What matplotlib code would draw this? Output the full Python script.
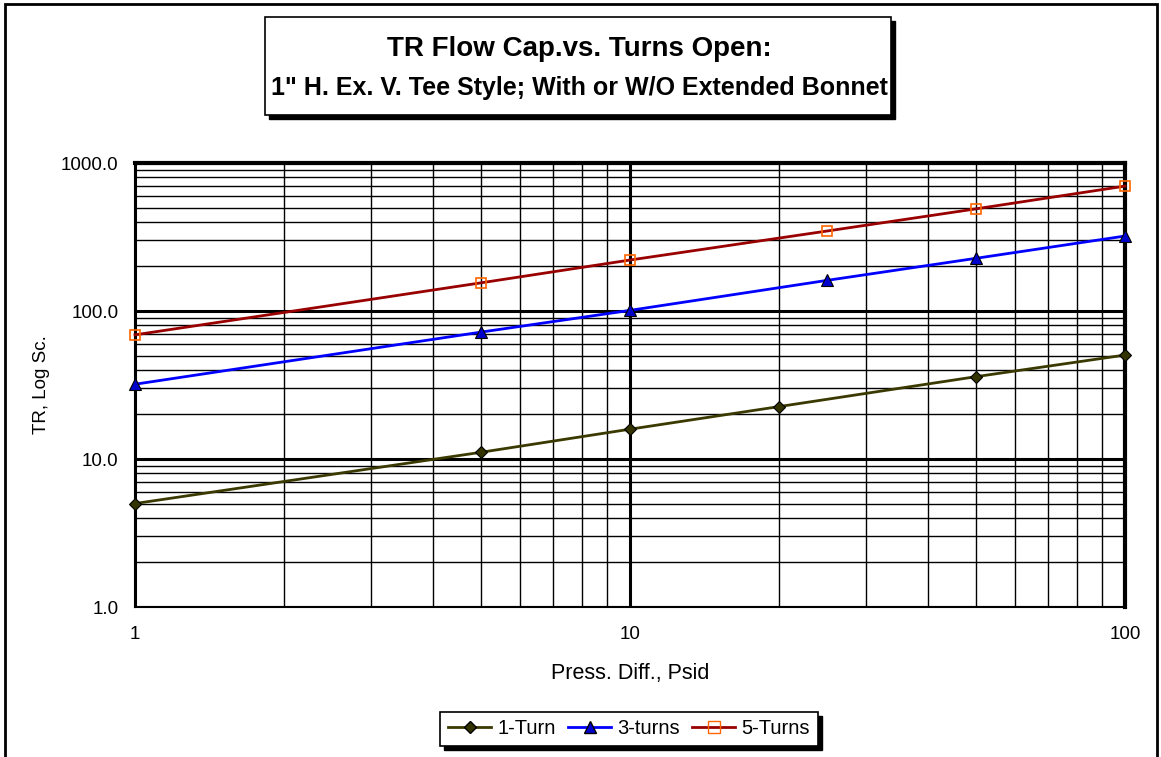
import matplotlib.pyplot as plt
from matplotlib.patches import Rectangle
from matplotlib.ticker import FixedLocator, LogLocator, NullFormatter
from matplotlib.lines import Line2D

plt.rcParams['font.family'] = ['Liberation Sans', 'DejaVu Sans']

# data
x_one = [1, 5, 10, 20, 50, 100]
y_one = [5.0, 11.1, 15.9, 22.6, 36.0, 50.4]
x_three = [1, 5, 10, 25, 50, 100]
y_three = [32, 72, 101, 161, 227, 321]
x_five = [1, 5, 10, 25, 50, 100]
y_five = [69, 155, 221, 347, 490, 698]
names = ['1-Turn', '3-turns', '5-Turns']

W, H = 1161, 757
fig = plt.figure(figsize=(W / 100, H / 100), dpi=100)

def fx(px):
    return px / W

def fy(py):
    return 1 - py / H

# outer chart frame
fig.patches.append(Rectangle((fx(5), fy(800)), fx(1157) - fx(5), fy(4) - fy(800),
                             transform=fig.transFigure, fill=False, ec='black', lw=2))

ax = fig.add_axes([fx(135), fy(607), fx(1125) - fx(135), fy(163) - fy(607)])
ax.set_xscale('log')
ax.set_yscale('log')
ax.set_xlim(1, 100)
ax.set_ylim(1, 1000)

ax.xaxis.set_major_locator(FixedLocator([1, 10, 100]))
ax.xaxis.set_minor_locator(LogLocator(base=10, subs=range(2, 10)))
ax.xaxis.set_minor_formatter(NullFormatter())
ax.set_xticklabels(['1', '10', '100'])
ax.yaxis.set_major_locator(FixedLocator([1, 10, 100, 1000]))
ax.yaxis.set_minor_locator(LogLocator(base=10, subs=range(2, 10)))
ax.yaxis.set_minor_formatter(NullFormatter())
ax.set_yticklabels(['1.0', '10.0', '100.0', '1000.0'])
ax.tick_params(which='both', length=0, labelsize=13.5)
ax.tick_params(axis='x', pad=14)
ax.tick_params(axis='y', pad=12)

ax.grid(which='minor', color='black', lw=1.0)
ax.grid(which='major', color='black', lw=2.2)
for s in ax.spines.values():
    s.set_linewidth(1.5)
ax.spines['top'].set_linewidth(3)
ax.spines['right'].set_linewidth(3)

ax.plot(x_one, y_one, color='#3a3a00', lw=2, marker='D', ms=6,
        mfc='#333300', mec='black', mew=0.8, clip_on=False, zorder=5)
ax.plot(x_three, y_three, color='#0000ff', lw=2, marker='^', ms=8,
        mfc='#0000cc', mec='black', mew=0.8, clip_on=False, zorder=5)
ax.plot(x_five, y_five, color='#990000', lw=2, marker='s', ms=7.5,
        mfc='none', mec='#ff6600', mew=1.2, clip_on=False, zorder=5)

ax.set_xlabel('Press. Diff., Psid', fontsize=15.5, labelpad=14)
ax.set_ylabel('TR, Log Sc.', fontsize=13.5, labelpad=8)

# title box with shadow
def shadow_box(x0, y0, x1, y1):
    fig.patches.append(Rectangle((fx(x0 + 4), fy(y1 + 4)), fx(x1) - fx(x0), fy(y0) - fy(y1),
                                 transform=fig.transFigure, fc='black', ec='black', lw=1))
    fig.patches.append(Rectangle((fx(x0), fy(y1)), fx(x1) - fx(x0), fy(y0) - fy(y1),
                                 transform=fig.transFigure, fc='white', ec='black', lw=1.2))

shadow_box(265, 17, 891, 115)
fig.text(fx(579), fy(49), 'TR Flow Cap.vs. Turns Open:', ha='center', va='center',
         fontsize=20, fontweight='bold')
fig.text(fx(579), fy(88), '1" H. Ex. V. Tee Style; With or W/O Extended Bonnet',
         ha='center', va='center', fontsize=18, fontweight='bold')

# legend box
shadow_box(440, 712, 818, 746)
handles = [
    Line2D([], [], color='#3a3a00', lw=2, marker='D', ms=6, mfc='#333300', mec='black'),
    Line2D([], [], color='#0000ff', lw=2, marker='^', ms=8, mfc='#0000cc', mec='black'),
    Line2D([], [], color='#990000', lw=2, marker='s', ms=8, mfc='none', mec='#ff6600'),
]
fig.legend(handles, names, loc='center', bbox_to_anchor=(fx(629), fy(729)), ncol=3,
           frameon=False, fontsize=14.5, handlelength=2.15, handletextpad=0.3,
           columnspacing=0.6, borderpad=0)

fig.savefig('out.png', dpi=100)
